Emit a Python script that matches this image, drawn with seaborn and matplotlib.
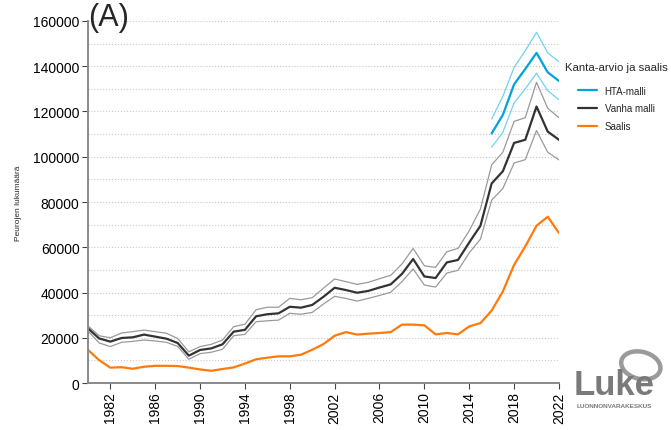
import numpy as np
import pandas as pd
import matplotlib
matplotlib.use("Agg")
import matplotlib.pyplot as plt
import seaborn as sns
from matplotlib.patches import Ellipse

years = list(range(1980, 2023))
hta_years = list(range(2016, 2023))

saalis = [14700, 10100, 6800, 7000, 6300, 7200, 7600, 7600, 7500, 6800,
          6000, 5400, 6200, 6900, 8600, 10500, 11200, 11800, 11800, 12500,
          14700, 17200, 20900, 22500, 21400, 21800, 22100, 22500, 25800, 25800,
          25500, 21500, 22100, 21500, 25000, 26500, 32000, 40500, 52200, 60400,
          69500, 73500, 66300]

vanha = [24200, 19700, 18300, 19900, 20200, 21400, 20500, 19600, 17700, 12100,
         14600, 15300, 17100, 22700, 23500, 29500, 30400, 30800, 33700, 33300,
         34500, 38100, 42100, 41100, 39900, 40700, 42200, 43600, 48200, 54800,
         47100, 46400, 53300, 54400, 62100, 69500, 88200, 93600, 106100, 107500,
         122200, 111100, 107500]

vanha_hi = [25300, 20900, 20000, 22100, 22700, 23400, 22700, 22000, 19700, 13800,
            16100, 17100, 19000, 24900, 26000, 32400, 33500, 33500, 37400, 36800,
            37700, 41900, 46000, 44800, 43600, 44500, 46100, 47600, 52600, 59500,
            51800, 51100, 58000, 59500, 67300, 76900, 96400, 102000, 115600, 117300,
            132900, 121400, 117300]

vanha_lo = [23100, 17700, 16100, 18000, 18400, 19000, 18600, 18000, 16200, 10500,
            13000, 13600, 14900, 20900, 21500, 27100, 27500, 27800, 30800, 30400,
            31200, 34900, 38300, 37400, 36200, 37400, 38700, 40100, 44800, 50400,
            43300, 42400, 48600, 49800, 57500, 63600, 80800, 86000, 97200, 98700,
            111600, 102000, 98600]

hta = [110300, 118500, 132000, 138800, 145900, 137300, 133500]
hta_hi = [116700, 126700, 139500, 146900, 155000, 145900, 142000]
hta_lo = [104200, 110800, 123800, 130000, 136900, 129200, 125200]

xtick_years = list(range(1982, 2023, 4))
ytick_vals = list(range(0, 160001, 20000))

sns.set_theme(style="white")
plt.rcParams['font.family'] = ['Liberation Sans', 'DejaVu Sans']

fig = plt.figure(figsize=(6.71, 4.31), dpi=100)
ax = fig.add_axes([0.131, 0.109, 0.702, 0.840])

c_hta = "#00a3dc"
c_hta_b = "#6fd3f0"
c_van = "#333333"
c_van_b = "#9a9a9a"
c_saa = "#ff7a0a"

sns.lineplot(x=years, y=vanha_hi, ax=ax, color=c_van_b, lw=0.9, legend=False)
sns.lineplot(x=years, y=vanha_lo, ax=ax, color=c_van_b, lw=0.9, legend=False)
sns.lineplot(x=hta_years, y=hta_hi, ax=ax, color=c_hta_b, lw=0.9, legend=False)
sns.lineplot(x=hta_years, y=hta_lo, ax=ax, color=c_hta_b, lw=0.9, legend=False)
sns.lineplot(x=hta_years, y=hta, ax=ax, color=c_hta, lw=1.6, label="HTA-malli")
sns.lineplot(x=years, y=vanha, ax=ax, color=c_van, lw=1.6, label="Vanha malli")
sns.lineplot(x=years, y=saalis, ax=ax, color=c_saa, lw=1.6, label="Saalis")

ax.set_xlim(1980, 2022)
ax.set_ylim(0, 160000)
ax.set_xticks(xtick_years)
ax.set_xticklabels([str(y) for y in xtick_years], rotation=90, fontsize=10)
ax.set_yticks(ytick_vals)
ax.set_yticklabels([str(v) for v in ytick_vals], fontsize=10)
ax.set_yticks(list(range(10000, 160001, 20000)), minor=True)
ax.grid(True, axis='y', which='both', color='#c8c8c8', linestyle=':', lw=0.8)
ax.set_axisbelow(True)
ax.tick_params(axis='both', which='major', direction='out', length=4, width=0.8,
               color='#444444', labelcolor='black', pad=2)
ax.tick_params(axis='y', which='minor', length=0)
ax.tick_params(bottom=True, left=True)
for s in ['top', 'right']:
    ax.spines[s].set_visible(False)
for s in ['left', 'bottom']:
    ax.spines[s].set_color('#8a8a8a')
    ax.spines[s].set_linewidth(1.4)

ax.set_ylabel("Peurojen lukumäärä", fontsize=6, labelpad=8)
ax.set_xlabel("")

fig.text(0.131, 0.993, "(A)", fontsize=22, ha='left', va='top')

leg = ax.legend(title="Kanta-arvio ja saalis", loc='upper left',
                bbox_to_anchor=(0.829, 0.875), bbox_transform=fig.transFigure,
                frameon=False, fontsize=7, title_fontsize=8.2,
                handlelength=1.9, handletextpad=0.8, labelspacing=0.8)
leg._legend_box.sep = 10

# Luke logo (text)
fig.text(0.915, 0.083, "Luke", fontsize=25, color='#7a7a7a', ha='center',
         va='baseline', fontweight='bold', family=['Liberation Sans'])
fig.text(0.915, 0.062, "LUONNONVARAKESKUS", fontsize=4.6, color='#7a7a7a',
         ha='center', va='top', fontweight='bold')
fig.patches.append(Ellipse((0.955, 0.15), 0.055, 0.068, transform=fig.transFigure,
                           fill=False, ec='#9a9a9a', lw=3.2, angle=30))

fig.savefig("out.png", dpi=100)
